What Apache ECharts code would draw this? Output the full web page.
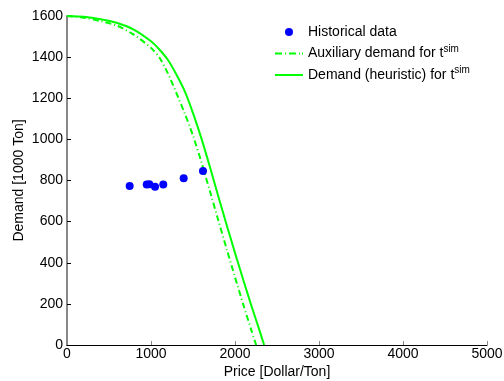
<!DOCTYPE html>
<html>
<head>
<meta charset="utf-8">
<script src="https://cdn.jsdelivr.net/npm/echarts@6/dist/echarts.min.js"></script>
<style>html,body{margin:0;padding:0;background:#fff;}#c{width:504px;height:381px;}</style>
</head>
<body>
<div id="c"></div>
<script>
// Historical data
const histPrice = [746, 949, 980, 1048, 1146, 1389, 1619];
const histDemand = [773, 780, 782, 770, 780, 811, 846];

// Demand (heuristic) for t^sim  (solid)
const solidPrice  = [0, 200, 400, 600, 800, 1000, 1100, 1200, 1300, 1400, 1500, 1600, 1700, 1800, 1900, 2000, 2100, 2200, 2300, 2347];
const solidDemand = [1600, 1596, 1584, 1566, 1533, 1477, 1437, 1387, 1317, 1236, 1128, 1005, 868, 725, 585, 448, 315, 185, 60, 0];

// Auxiliary demand for t^sim  (dash-dot)
const auxPrice  = [0, 200, 400, 600, 800, 1000, 1100, 1200, 1300, 1400, 1500, 1600, 1700, 1800, 1900, 2000, 2100, 2200, 2252];
const auxDemand = [1600, 1592, 1575, 1552, 1508, 1445, 1398, 1322, 1228, 1128, 1018, 890, 750, 608, 468, 330, 195, 65, 0];

// Axis ticks
const xTicks = {min: 0, max: 5000, interval: 1000};
const yTicks = {min: 0, max: 1600, interval: 200};

const zip = (a, b) => a.map((v, i) => [v, b[i]]);
const font = 'Liberation Sans, Arial, Helvetica, sans-serif';

const chart = echarts.init(document.getElementById('c'), null, {renderer: 'canvas'});
chart.setOption({
  animation: false,
  backgroundColor: '#fff',
  grid: {left: 67, right: 17, top: 16, bottom: 36, containLabel: false, outerBoundsMode: 'none'},
  xAxis: {
    type: 'value', min: xTicks.min, max: xTicks.max, interval: xTicks.interval,
    name: 'Price [Dollar/Ton]', nameLocation: 'middle', nameGap: 20, nameMoveOverlap: false,
    nameTextStyle: {fontFamily: font, fontSize: 14, color: '#000'},
    axisLine: {show: true, lineStyle: {color: '#000', width: 1}},
    axisTick: {show: true, inside: true, length: 4, lineStyle: {color: '#888'}},
    axisLabel: {fontFamily: font, fontSize: 14, color: '#000', margin: 2, formatter: v => String(v)},
    splitLine: {show: false}
  },
  yAxis: {
    type: 'value', min: yTicks.min, max: yTicks.max, interval: yTicks.interval,
    name: 'Demand [1000 Ton]', nameLocation: 'middle', nameGap: 41, nameMoveOverlap: false,
    nameTextStyle: {fontFamily: font, fontSize: 14, color: '#000'},
    axisLine: {show: true, lineStyle: {color: '#888', width: 2}},
    axisTick: {show: true, inside: true, length: 4, lineStyle: {color: '#000'}},
    axisLabel: {fontFamily: font, fontSize: 14, color: '#000', margin: 4, formatter: v => String(v)},
    splitLine: {show: false}
  },
  legend: {
    orient: 'vertical', left: 270, top: 20, itemWidth: 28, itemHeight: 8, itemGap: 5,
    textStyle: {fontFamily: font, fontSize: 14, color: '#000',
      rich: {sup: {fontFamily: font, fontSize: 10, color: '#000', padding: [0, 0, 9, 0]}}},
    formatter: function (name) {
      if (name === 'Historical data') return name;
      return name + '{sup|sim}';
    },
    data: [
      {name: 'Historical data', icon: 'circle'},
      {name: 'Auxiliary demand for t', icon: 'path://M0,0h7v2h-7z M10,0h1v2h-1z M14,0h7v2h-7z M24,0h1v2h-1z M27,0h1v2h-1z'},
      {name: 'Demand (heuristic) for t', icon: 'path://M0,0h28v2h-28z'}
    ]
  },
  series: [
    {
      name: 'Historical data', type: 'scatter', data: zip(histPrice, histDemand),
      symbol: 'circle', symbolSize: 8, itemStyle: {color: '#0000ff', opacity: 1}, z: 5
    },
    {
      name: 'Auxiliary demand for t', type: 'line', data: zip(auxPrice, auxDemand),
      symbol: 'none', showSymbol: false, smooth: 0.25, itemStyle: {color: '#00ff00'},
      lineStyle: {color: '#00ff00', width: 2, type: [6, 3, 1, 3]}
    },
    {
      name: 'Demand (heuristic) for t', type: 'line', data: zip(solidPrice, solidDemand),
      symbol: 'none', showSymbol: false, smooth: 0.25, itemStyle: {color: '#00ff00'},
      lineStyle: {color: '#00ff00', width: 2, type: 'solid'}
    }
  ]
});
</script>
</body>
</html>
